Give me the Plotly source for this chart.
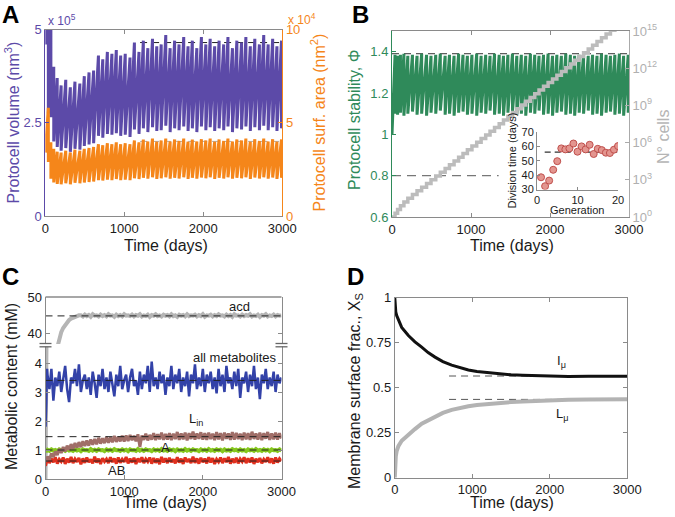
import plotly.graph_objects as go

# ---------------- DATA ----------------
# Panel B inset (first 20) + later generation division times (days)
gen_dur = [38.5, 32.3, 36.2, 43.7, 49.7, 58.6, 57.9, 58.6, 62.0, 56.3,
           60.0, 57.9, 61.1, 54.7, 58.3, 57.4, 55.6, 55.4, 57.7, 60.2,
           56, 58, 55, 57, 59, 54, 56, 58, 55, 57,
           56, 59, 55, 54, 57, 58, 56, 55, 57, 56,
           58, 54, 57, 56, 59, 55, 56, 57, 58, 55,
           56, 57, 54, 58, 56, 57]
inset_gens = list(range(1, 21))
inset_mean = 56.0

# Panel A: per-cycle volume (x1e5 nm^3) and surface (x1e4 nm^2), start/end of each cycle
vol_start = [4.6, 2.75, 2.65, 2.0, 1.85, 1.75, 1.82, 1.72, 1.8, 1.78, 1.88, 1.92, 1.95, 2.15, 2.1, 2.2, 2.18, 2.22, 2.15, 2.18,
             2.12, 2.32, 2.2, 2.35, 2.25, 2.38, 2.28, 2.3, 2.42, 2.25, 2.35, 2.3, 2.4, 2.28, 2.35, 2.25, 2.4, 2.3, 2.38, 2.28,
             2.35, 2.3, 2.4, 2.25, 2.35, 2.32, 2.4, 2.28, 2.38, 2.3, 2.42, 2.3, 2.38, 2.28, 2.35, 2.3]
vol_end = [5.5, 5.3, 4.0, 3.7, 3.5, 3.65, 3.45, 3.6, 3.55, 3.75, 3.85, 3.9, 4.3, 4.2, 4.4, 4.35, 4.45, 4.3, 4.35, 4.25,
           4.65, 4.4, 4.7, 4.5, 4.75, 4.55, 4.6, 4.85, 4.5, 4.7, 4.6, 4.8, 4.55, 4.7, 4.5, 4.8, 4.6, 4.75, 4.55, 4.7,
           4.6, 4.8, 4.5, 4.7, 4.65, 4.8, 4.55, 4.75, 4.6, 4.85, 4.6, 4.75, 4.55, 4.7, 4.6, 4.7]
area_start = [3.4, 2.9, 2.0, 1.8, 1.72, 1.7, 1.75, 1.7, 1.78, 1.75, 1.8, 1.82, 1.85, 1.92, 1.9, 1.95, 1.92, 1.98, 1.92, 1.95,
              1.92, 2.02, 1.98, 2.05, 2.0, 2.08, 1.99, 2.02, 2.08, 2.0, 2.05, 2.01, 2.08, 1.99, 2.05, 2.0, 2.06, 2.02, 2.08, 1.99,
              2.05, 2.01, 2.08, 2.0, 2.05, 2.02, 2.08, 1.99, 2.06, 2.01, 2.08, 2.0, 2.06, 1.99, 2.05, 2.01]
area_end = [5.8, 3.95, 3.6, 3.45, 3.4, 3.5, 3.4, 3.55, 3.5, 3.6, 3.65, 3.7, 3.85, 3.8, 3.9, 3.85, 3.95, 3.85, 3.9, 3.85,
            4.05, 3.95, 4.1, 4.0, 4.15, 3.98, 4.05, 4.15, 4.0, 4.1, 4.02, 4.15, 3.98, 4.1, 4.0, 4.12, 4.05, 4.15, 3.98, 4.1,
            4.02, 4.15, 4.0, 4.1, 4.05, 4.15, 3.98, 4.12, 4.02, 4.15, 4.0, 4.12, 3.98, 4.1, 4.02, 4.1]
a_vol_ref = 4.65
a_area_ref = 4.0
a_ref_t = [1200, 3000]

# Panel B: stability per cycle
phi_start = [1.0, 1.10, 1.095, 1.105, 1.09, 1.10, 1.11, 1.095, 1.10, 1.09, 1.105, 1.10, 1.115, 1.095, 1.10, 1.09, 1.105, 1.11, 1.095, 1.10,
             1.09, 1.105, 1.10, 1.115, 1.095, 1.10, 1.09, 1.105, 1.11, 1.095, 1.10, 1.09, 1.105, 1.10, 1.115, 1.095, 1.10, 1.09, 1.105, 1.11,
             1.095, 1.10, 1.09, 1.105, 1.10, 1.115, 1.095, 1.10, 1.09, 1.105, 1.11, 1.095, 1.10, 1.09, 1.105, 1.10]
phi_end = [1.385, 1.38, 1.385, 1.39, 1.38, 1.385, 1.38, 1.39, 1.385, 1.38, 1.385, 1.39, 1.38, 1.385, 1.38, 1.39, 1.385, 1.38, 1.385, 1.39,
           1.38, 1.385, 1.38, 1.39, 1.385, 1.38, 1.385, 1.39, 1.38, 1.385, 1.38, 1.39, 1.385, 1.38, 1.385, 1.39, 1.38, 1.385, 1.38, 1.39,
           1.385, 1.38, 1.385, 1.39, 1.38, 1.385, 1.38, 1.39, 1.385, 1.38, 1.385, 1.39, 1.38, 1.385, 1.38, 1.385]
b_phi_ref = 1.39
b_low_ref = 0.8
b_low_ref_t = [0, 1350]

# Panel C: metabolic content (mM)
c_early_t = [0, 5, 10, 15, 20]
c_grid_t = list(range(25, 3001, 25))
blue_early = [1.8, 2.1, 2.6, 3.3, 3.8]
blue_vals = [3.6, 3.1, 3.8, 2.7, 3.5, 3.2, 3.7, 3.0, 3.4, 3.9, 3.1, 2.65, 3.5, 3.3, 3.8, 3.2, 3.95, 3.0, 3.4, 3.6,
             3.1, 3.5, 2.9, 3.7, 3.3, 2.8, 3.6, 3.2, 3.8, 3.1, 3.5, 3.0, 3.7, 3.3, 2.85, 3.6, 3.2, 3.9, 3.1, 3.4,
             3.6, 3.0, 3.5, 3.8, 3.2, 3.4, 2.9, 3.7, 3.1, 3.6, 3.3, 3.9, 3.0, 4.05, 3.2, 3.5, 3.1, 3.7, 3.3, 3.6,
             2.9, 3.5, 3.2, 3.9, 3.1, 3.6, 3.3, 3.8, 3.0, 3.5, 3.2, 3.7, 2.85, 3.6, 3.3, 3.95, 3.1, 3.5, 3.2, 3.8,
             3.0, 3.6, 3.3, 3.7, 3.1, 3.5, 2.95, 3.8, 3.2, 3.6, 3.0, 3.9, 3.3, 3.5, 3.1, 3.7, 3.2, 3.8, 2.8, 3.5,
             3.3, 3.7, 3.0, 3.6, 3.2, 3.9, 3.1, 3.5, 2.75, 3.6, 3.3, 3.8, 3.1, 3.5, 3.2, 3.7, 3.0, 3.6, 3.3, 3.5]
lin_early = [0.62, 0.60, 0.64, 0.66, 0.68]
lin_vals = [0.78, 0.66, 0.88, 0.76, 0.95, 0.83, 1.04, 0.90, 1.10, 0.95, 1.15, 1.00, 1.20, 1.04, 1.24, 1.08, 1.27, 1.10, 1.30, 1.14,
            1.33, 1.15, 1.36, 1.18, 1.38, 1.20, 1.42, 1.22, 1.40, 1.24, 1.45, 1.25, 1.43, 1.27, 1.48, 1.28, 1.46, 1.30, 1.49, 1.29,
            1.50, 1.31, 1.52, 1.34, 1.49, 1.30, 1.54, 1.10, 1.50, 1.35, 1.56, 1.33, 1.52, 1.36, 1.58, 1.34, 1.54, 1.37, 1.60, 1.35,
            1.55, 1.36, 1.58, 1.34, 1.56, 1.38, 1.62, 1.35, 1.57, 1.37, 1.60, 1.33, 1.58, 1.38, 1.63, 1.36, 1.57, 1.39, 1.61, 1.36,
            1.58, 1.35, 1.60, 1.38, 1.56, 1.34, 1.62, 1.37, 1.58, 1.33, 1.60, 1.39, 1.57, 1.35, 1.62, 1.36, 1.59, 1.38, 1.56, 1.34,
            1.60, 1.37, 1.58, 1.35, 1.63, 1.38, 1.57, 1.36, 1.60, 1.34, 1.58, 1.39, 1.62, 1.35, 1.57, 1.37, 1.60, 1.36, 1.58, 1.40]
a_early = [0.94, 0.96, 0.98, 0.99, 1.0]
a_vals = [1.01, 0.97, 1.02, 0.98, 1.00, 0.96, 1.02, 0.99, 1.01, 0.97,
          1.03, 0.98, 1.00, 0.97, 1.02, 0.98, 1.01, 0.96, 1.02, 0.99,
          1.00, 0.97, 1.03, 0.98, 1.01, 0.97, 1.02, 0.99, 1.00, 0.96,
          1.02, 0.98, 1.01, 0.97, 1.03, 0.99, 1.00, 0.97, 1.02, 0.98,
          1.01, 0.96, 1.02, 0.99, 1.00, 0.97, 1.03, 0.98, 1.01, 0.97,
          1.02, 0.99, 1.00, 0.96, 1.02, 0.98, 1.01, 0.97, 1.03, 0.98,
          1.00, 0.97, 1.02, 0.99, 1.01, 0.96, 1.02, 0.98, 1.00, 0.97,
          1.03, 0.98, 1.01, 0.97, 1.02, 0.99, 1.00, 0.96, 1.02, 0.98,
          1.01, 0.97, 1.03, 0.98, 1.00, 0.97, 1.02, 0.99, 1.01, 0.96,
          1.02, 0.98, 1.00, 0.97, 1.03, 0.99, 1.01, 0.97, 1.02, 0.98,
          1.00, 0.96, 1.02, 0.99, 1.01, 0.97, 1.03, 0.98, 1.00, 0.97,
          1.02, 0.98, 1.01, 0.96, 1.02, 0.99, 1.00, 0.97, 1.02, 0.98]
ab_early = [0.45, 0.55, 0.62, 0.58, 0.66]
ab_vals = [0.72, 0.55, 0.70, 0.58, 0.75, 0.53, 0.68, 0.60, 0.74, 0.52,
           0.70, 0.57, 0.76, 0.55, 0.69, 0.59, 0.73, 0.51, 0.71, 0.56,
           0.74, 0.58, 0.68, 0.54, 0.77, 0.57, 0.70, 0.52, 0.72, 0.60,
           0.69, 0.55, 0.75, 0.58, 0.71, 0.53, 0.74, 0.56, 0.68, 0.59,
           0.76, 0.54, 0.70, 0.57, 0.73, 0.52, 0.71, 0.58, 0.75, 0.55,
           0.69, 0.60, 0.74, 0.53, 0.72, 0.56, 0.70, 0.51, 0.76, 0.57,
           0.71, 0.55, 0.73, 0.58, 0.68, 0.54, 0.75, 0.57, 0.70, 0.52,
           0.74, 0.59, 0.69, 0.55, 0.77, 0.56, 0.71, 0.53, 0.73, 0.58,
           0.70, 0.54, 0.75, 0.57, 0.72, 0.52, 0.68, 0.59, 0.74, 0.55,
           0.71, 0.58, 0.76, 0.53, 0.70, 0.56, 0.73, 0.54, 0.69, 0.60,
           0.75, 0.55, 0.71, 0.57, 0.74, 0.52, 0.70, 0.58, 0.72, 0.54,
           0.68, 0.59, 0.75, 0.56, 0.71, 0.53, 0.74, 0.57, 0.70, 0.62]
acd_early_t = [0, 5, 10, 15, 25, 50, 100, 150, 175, 200, 225, 250, 275, 300, 325, 350, 375, 400, 425]
acd_early = [0, 2.4, 4.6, 6.8, 10.8, 19, 30, 36, 38.4, 40.2, 41.4, 42.3, 43.0, 43.6, 44.0, 44.3, 44.6, 44.8, 44.9]
acd_late_t = list(range(450, 3001, 25))
acd_late = [44.9, 44.6, 45.1, 44.7, 45.0, 44.5, 45.2, 44.8, 44.9, 44.6,
            45.1, 44.7, 45.0, 44.6, 45.2, 44.8, 44.9, 44.5, 45.1, 44.7,
            45.0, 44.6, 45.2, 44.8, 44.9, 44.7, 45.1, 44.6, 45.0, 44.8,
            45.2, 44.6, 44.9, 44.7, 45.1, 44.5, 45.0, 44.8, 45.2, 44.7,
            44.9, 44.6, 45.1, 44.8, 45.0, 44.6, 45.2, 44.7, 44.9, 44.5,
            45.1, 44.8, 45.0, 44.6, 45.2, 44.7, 44.9, 44.8, 45.1, 44.6,
            45.0, 44.7, 45.2, 44.5, 44.9, 44.8, 45.1, 44.6, 45.0, 44.7,
            45.2, 44.8, 44.9, 44.6, 45.1, 44.7, 45.0, 44.5, 45.2, 44.8,
            44.9, 44.6, 45.1, 44.7, 45.0, 44.8, 45.2, 44.6, 44.9, 44.7,
            45.1, 44.5, 45.0, 44.8, 45.2, 44.6, 44.9, 44.7, 45.1, 44.6,
            45.0, 44.8, 44.9]
c_ref_upper = 44.75
c_ref_lower = [3.4, 1.46, 1.0, 0.62]

# Panel D: membrane surface fractions
d_t = [0, 5, 13, 25, 46, 89, 175, 260, 347, 430, 519, 620, 734, 840, 949, 1060, 1164, 1270, 1379, 1500,
       1650, 1810, 2000, 2240, 2500, 2750, 3000]
i_mu = [1.0, 0.95, 0.92, 0.90, 0.875, 0.835, 0.79, 0.755, 0.725, 0.695, 0.67, 0.645, 0.625, 0.61, 0.598, 0.59, 0.585,
        0.58, 0.576, 0.572, 0.569, 0.567, 0.565, 0.562, 0.563, 0.562, 0.563]
l_mu = [0.0, 0.07, 0.12, 0.15, 0.175, 0.205, 0.24, 0.27, 0.30, 0.32, 0.34, 0.36, 0.377, 0.388, 0.397, 0.404, 0.409,
        0.413, 0.416, 0.42, 0.424, 0.427, 0.43, 0.433, 0.434, 0.435, 0.436]
d_refs = [0.565, 0.435]
d_ref_t = [700, 3000]

# ---------------- STYLE ----------------
W, H = 675, 517
FONT = "Liberation Sans, Arial, Helvetica, sans-serif"
PURPLE = '#5c4aa8'
ORANGE = '#f5861a'
GREEN = '#2f8a5a'
LGRAY = '#bcbcbc'
FRAME = '#8a8a8a'
TXT = '#1a1a1a'
DASH = '7px,5px'


def px(x):
    return x / W


def py(y):
    return 1 - y / H


cum = [0.0]
for d in gen_dur:
    cum.append(cum[-1] + d)


def sawtooth(starts, ends):
    xs, ys = [], []
    for k in range(len(starts)):
        xs += [cum[k], cum[k + 1]]
        ys += [starts[k], ends[k]]
    return xs, ys


fig = go.Figure()


def line(x, y, color, width, xa, ya, dash=None, shape=None):
    ln = dict(color=color, width=width)
    if dash:
        ln['dash'] = dash
    if shape:
        ln['shape'] = shape
    fig.add_trace(go.Scatter(x=x, y=y, mode='lines', line=ln, xaxis=xa, yaxis=ya,
                             hoverinfo='skip', showlegend=False))


# Panel A
line(a_ref_t, [a_vol_ref] * 2, '#222222', 1, 'x', 'y', DASH)
vx, vy = sawtooth(vol_start, vol_end)
line(vx, vy, PURPLE, 3, 'x', 'y')
line(a_ref_t, [a_area_ref] * 2, '#aaaaaa', 1, 'x', 'y2', DASH)
ax_, ay_ = sawtooth(area_start, area_end)
line(ax_, ay_, ORANGE, 3, 'x', 'y2')

# Panel B
line([0, 3000], [b_phi_ref] * 2, '#333333', 1, 'x2', 'y3', DASH)
line(b_low_ref_t, [b_low_ref] * 2, '#777777', 1.2, 'x2', 'y3', '9px,6px')
bx, by = sawtooth(phi_start, phi_end)
line(bx, by, GREEN, 3, 'x2', 'y3')
ncells = [2 ** k for k in range(len(cum))]
line(cum, ncells, LGRAY, 3.5, 'x2', 'y4', shape='hv')

# Inset
line([1.9, 19.8], [inset_mean] * 2, '#333333', 1.2, 'x3', 'y5', '6px,4px')
fig.add_trace(go.Scatter(x=inset_gens, y=gen_dur[:20], mode='markers', xaxis='x3', yaxis='y5',
                         marker=dict(size=7, color='#e3958f', line=dict(color='#c0504d', width=1)),
                         hoverinfo='skip', showlegend=False))

# Panel C
acd_t = acd_early_t + acd_late_t
acd_v = acd_early + acd_late
ct = c_early_t + c_grid_t
line(acd_t, acd_v, '#b5b5b5', 4, 'x4', 'y7')
line(acd_t, acd_v, '#b5b5b5', 4, 'x4', 'y6')
line(ct, blue_early + blue_vals, '#3342a8', 2.5, 'x4', 'y6')
line(ct, a_early + a_vals, '#86c81e', 4, 'x4', 'y6')
line(ct, ab_early + ab_vals, '#e0301e', 3, 'x4', 'y6')
line(ct, lin_early + lin_vals, '#a06e68', 3, 'x4', 'y6')
line([0, 3000], [c_ref_upper] * 2, '#222222', 1, 'x4', 'y7', DASH)
for lv in c_ref_lower:
    line([0, 3000], [lv] * 2, '#222222', 1, 'x4', 'y6', DASH)

# Panel D
for lv in d_refs:
    line(d_ref_t, [lv] * 2, '#555555', 1, 'x5', 'y8', DASH)
line(d_t, l_mu, '#b3b3b3', 4, 'x5', 'y8')
line(d_t, i_mu, '#111111', 3, 'x5', 'y8')

# ---------------- AXES ----------------
tf = dict(family=FONT, size=13, color=TXT)
base = dict(showgrid=False, zeroline=False, ticks='inside', ticklen=4, tickwidth=1, automargin=False,
            showline=True, linewidth=1, linecolor=FRAME, tickcolor=FRAME, tickfont=tf)

A_x, A_y = (45.3, 282.3), (29.5, 216)
B_x, B_y = (392, 629), (31, 217)
I_x, I_y = (537, 618), (132, 189.5)
C_x, C_up, C_lo = (45.5, 281.5), (297, 344), (346, 479)
D_x, D_y = (394.8, 627.3), (297.7, 477.7)


def xd(r):
    return [px(r[0]), px(r[1])]


def yd(r):
    return [py(r[1]), py(r[0])]


xticks = dict(tickvals=[0, 1000, 2000, 3000])
layout = dict(
    width=W, height=H, autosize=False, margin=dict(l=0, r=0, t=0, b=0),
    paper_bgcolor='white', plot_bgcolor='white', showlegend=False,
    font=dict(family=FONT, color=TXT),
    xaxis=dict(base, domain=xd(A_x), range=[0, 3000], anchor='y', mirror='ticks', **xticks),
    yaxis=dict(base, domain=yd(A_y), range=[0, 5], anchor='x', tickvals=[0, 2.5, 5],
               linecolor=PURPLE, tickcolor=PURPLE, tickfont=dict(tf, color=PURPLE)),
    yaxis2=dict(base, range=[0, 10], overlaying='y', side='right', anchor='x', tickvals=[0, 5, 10],
                linecolor=ORANGE, tickcolor=ORANGE, tickfont=dict(tf, color=ORANGE)),
    xaxis2=dict(base, domain=xd(B_x), range=[0, 3000], anchor='y3', mirror='ticks', **xticks),
    yaxis3=dict(base, domain=yd(B_y), range=[0.6, 1.5], anchor='x2', tickvals=[0.6, 0.8, 1, 1.2, 1.4],
                ticktext=['0.6', '0.8', '1', '1.2', '1.4'],
                linecolor=GREEN, tickcolor=GREEN, tickfont=dict(tf, color=GREEN)),
    yaxis4=dict(base, type='log', range=[0, 15], overlaying='y3', side='right', anchor='x2',
                tickvals=[1, 1e3, 1e6, 1e9, 1e12, 1e15],
                ticktext=['10<sup>0</sup>', '10<sup>3</sup>', '10<sup>6</sup>', '10<sup>9</sup>',
                          '10<sup>12</sup>', '10<sup>15</sup>'],
                linecolor='#aaaaaa', tickcolor='#aaaaaa', tickfont=dict(tf, color='#b0b0b0')),
    xaxis3=dict(base, domain=xd(I_x), range=[0, 20], anchor='y5', tickvals=[0, 10, 20],
                tickfont=dict(tf, size=11), ticklen=3),
    yaxis5=dict(base, domain=yd(I_y), range=[30, 70], anchor='x3', tickvals=[30, 40, 50, 60, 70],
                tickfont=dict(tf, size=11), ticklen=3),
    xaxis4=dict(base, domain=xd(C_x), range=[0, 3000], anchor='y6', **xticks),
    yaxis6=dict(base, domain=yd(C_lo), range=[0, (479 - 346) / 29.0], anchor='x4', mirror='ticks',
                tickvals=[0, 1, 2, 3, 4]),
    yaxis7=dict(base, domain=yd(C_up), range=[50 - (344 - 297) / 3.6, 50], anchor='x4', mirror='ticks',
                tickvals=[40, 50]),
    xaxis5=dict(base, domain=xd(D_x), range=[0, 3000], anchor='y8', mirror='ticks', **xticks),
    yaxis8=dict(base, domain=yd(D_y), range=[0, 1], anchor='x5', mirror='ticks',
                tickvals=[0, 0.25, 0.5, 0.75, 1], ticktext=['0', '0.25', '0.5', '0.75', '1']),
)
fig.update_layout(**layout)

# ---------------- SHAPES ----------------
shapes = []
shapes.append(dict(type='line', xref='paper', yref='paper', x0=px(C_x[0]), x1=px(C_x[1]),
                   y0=py(297), y1=py(297), line=dict(color=FRAME, width=1.5)))
for xc in (C_x[0], C_x[1]):
    shapes.append(dict(type='rect', xref='paper', yref='paper', x0=px(xc - 6), x1=px(xc + 6),
                       y0=py(346.5), y1=py(343.5), fillcolor='white', line=dict(width=0)))
    for yy in (343.5, 346.8):
        shapes.append(dict(type='line', xref='paper', yref='paper', x0=px(xc - 6), x1=px(xc + 6),
                           y0=py(yy), y1=py(yy), line=dict(color='#666666', width=1.3)))
fig.update_layout(shapes=shapes)

# ---------------- ANNOTATIONS ----------------
ann = []


def note(x, y, text, size=16, color=TXT, angle=0, xref='paper', yref='paper', bold=False, xanchor='center'):
    if xref == 'paper':
        x = px(x)
    if yref == 'paper':
        y = py(y)
    ann.append(dict(x=x, y=y, xref=xref, yref=yref, text=(f'<b>{text}</b>' if bold else text),
                    showarrow=False, textangle=angle, xanchor=xanchor, yanchor='middle',
                    font=dict(family=FONT, size=size, color=color)))


note(11, 15, 'A', 24, '#000000', bold=True)
note(360, 15, 'B', 24, '#000000', bold=True)
note(11, 276, 'C', 24, '#000000', bold=True)
note(355, 276, 'D', 24, '#000000', bold=True)

note(165.8, 245, 'Time (days)')
note(512, 245, 'Time (days)')
note(165, 502, 'Time (days)')
note(512, 502, 'Time (days)')

note(12, 122.5, 'Protocell volume (nm<sup>3</sup>)', 16, PURPLE, -90)
note(318, 122.5, 'Protocell surf. area (nm<sup>2</sup>)', 16, ORANGE, -90)
note(355, 120, 'Protocell stability, Φ', 16, GREEN, -90)
note(663, 137, 'N° cells', 16, '#b5b5b5', -90)
note(511, 160.5, 'Division time (days)', 11, TXT, -90)
note(577, 210, 'Generation', 11, TXT)
note(11, 387, 'Metabolic content (mM)', 16, TXT, -90)
note(355, 391, 'Membrane surface frac., X<sub>S</sub>', 16, TXT, -90)

note(46, 20, 'x 10<sup>5</sup>', 12, PURPLE, xanchor='left')
note(286, 19, 'x 10<sup>4</sup>', 12, ORANGE, xanchor='left')

note(2465, 47.3, 'acd', 13, xref='x4', yref='y7')
note(2410, 4.18, 'all metabolites', 13, xref='x4', yref='y6')
note(1916, 2.06, 'L<sub>in</sub>', 13, xref='x4', yref='y6')
note(1524, 1.08, 'A', 13, xref='x4', yref='y6')
note(903, 0.31, 'AB', 13, xref='x4', yref='y6')
note(2153, 0.648, 'I<sub>μ</sub>', 13, xref='x5', yref='y8')
note(2153, 0.352, 'L<sub>μ</sub>', 13, xref='x5', yref='y8')

fig.update_layout(annotations=ann)
fig.write_html("out.html", config={'displayModeBar': False, 'staticPlot': True},
               post_script="document.body.style.margin='0px';document.body.style.padding='0px';"
                           "document.body.style.overflow='hidden';")
